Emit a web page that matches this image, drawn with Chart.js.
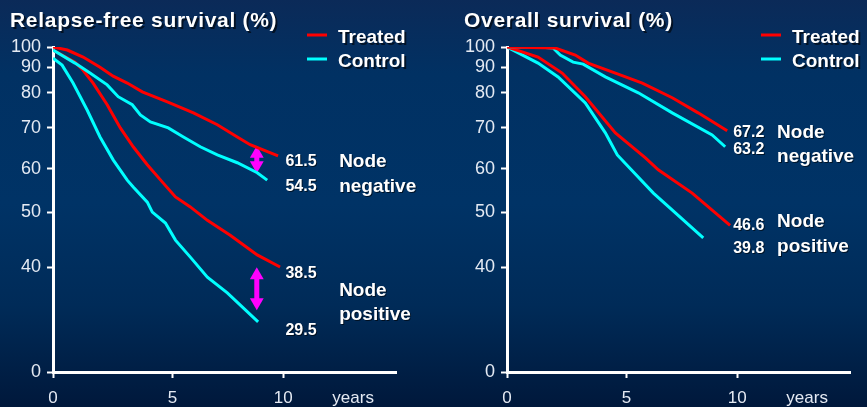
<!DOCTYPE html>
<html>
<head>
<meta charset="utf-8">
<script src="https://cdn.jsdelivr.net/npm/chart.js@4.4.1/dist/chart.umd.min.js"></script>
<style>
  html, body { margin: 0; padding: 0; }
  body {
    width: 867px; height: 407px; overflow: hidden; position: relative;
    background: linear-gradient(to bottom, #0b2a58 0%, #013163 18%, #003366 50%, #002b58 75%, #00183b 100%);
  }
  canvas { position: absolute; top: 0; }
  #rfs { left: 0; }
  #os { left: 440px; }
</style>
</head>
<body>
<canvas id="rfs" width="440" height="407"></canvas>
<canvas id="os" width="427" height="407"></canvas>
<script>
// axis ticks
const yearTicks = [0, 5, 10, 13.1];
const yearTickLabels = ['0', '5', '10', 'years'];
const pctTicks = [0, 40, 50, 60, 70, 80, 90, 100];
const pctTickLabels = ['0', '40', '50', '60', '70', '80', '90', '100'];
const seriesNames = ['Treated', 'Control'];

// Relapse-free survival, node negative
const rfsTreatedNegYears = [0, 0.6, 1.26, 1.97, 2.52, 3.11, 3.74, 4.79, 5.95, 7.03, 7.93, 8.51, 9.77];
const rfsTreatedNeg = [100, 98.5, 95, 90, 86.5, 83.8, 80.4, 77.4, 74.3, 70.9, 67.8, 65.9, 63.2];
const rfsControlNegYears = [0, 0.92, 1.55, 2.27, 2.73, 3.32, 3.66, 4.08, 4.83, 5.5, 6.26, 7.03, 7.93, 8.83, 9.28];
const rfsControlNeg = [98.5, 92, 87.7, 83.1, 78.9, 76.6, 73.7, 71.7, 70, 67.8, 65.4, 63.4, 61.5, 59.1, 57.4];
// Relapse-free survival, node positive
const rfsTreatedPosYears = [0, 0.92, 1.26, 1.68, 2.27, 2.82, 3.36, 3.95, 4.62, 5.14, 5.81, 6.58, 7.61, 8.83, 9.86];
const rfsTreatedPos = [98.5, 92.5, 88.8, 83.8, 76.6, 70, 65.4, 61, 56.7, 53.5, 51.2, 48.5, 45.8, 42.2, 40];
const rfsControlPosYears = [0, 0.38, 0.84, 1.43, 1.97, 2.52, 3.11, 3.36, 3.95, 4.16, 4.71, 5.14, 5.81, 6.58, 7.48, 8.87];
const rfsControlPos = [94.5, 91, 83.8, 75.1, 67.8, 62.2, 57.4, 55.8, 52.3, 50, 48, 44.9, 41.8, 38.4, 35.9, 31.3];
// gap arrows
const rfsArrowYear = 8.81;
const rfsArrowNeg = [63.7, 60.9];
const rfsArrowPos = [38.7, 34.4];

// Overall survival
const osTreatedNegYears = [0, 2.02, 2.86, 3.4, 4.54, 5.72, 7.07, 8.24, 9.55];
const osTreatedNeg = [100, 99.5, 96, 92, 87.7, 83.8, 78.6, 74.3, 69.3];
const osControlNegYears = [0, 1.3, 1.93, 2.23, 2.77, 3.19, 4.12, 5.54, 7.07, 8.87, 9.46];
const osControlNeg = [100, 100, 99.5, 96, 92.5, 91.5, 86.2, 80, 74.3, 68.3, 65.4];
const osTreatedPosYears = [0, 1.3, 2.31, 3.28, 4.54, 5.86, 6.44, 7.97, 9.68];
const osTreatedPos = [100, 95, 87.7, 78.9, 68.8, 62.7, 59.8, 54.4, 47.6];
const osControlPosYears = [0, 1.3, 2.14, 3.28, 4.12, 4.62, 6.22, 8.47];
const osControlPos = [100, 92, 86.2, 77.1, 68.8, 63.4, 54.4, 45.3];

// end values printed next to the curves
const rfsEndLabels = ['61.5', '54.5', '38.5', '29.5'];
const osEndLabels = ['67.2', '63.2', '46.6', '39.8'];

const FONT = '"Liberation Sans", Arial, sans-serif';
const RED = '#ff0000';
const CYAN = '#00ffff';
const MAGENTA = '#ff00ff';
const TICK_COLOR = '#e4eaf3';

// the original axes are hand drawn and not evenly spaced,
// so the scale maps values through fixed breakpoints
const yearKnots = [[0, 0], [5, 0.348], [10, 0.671], [15, 1]];
const pctKnots = [[0, 0], [30, 0.129], [40, 0.323], [50, 0.492], [60, 0.625], [70, 0.751], [80, 0.859], [90, 0.938], [100, 1]];

function toDecimal(knots, v) {
  if (v <= knots[0][0]) return knots[0][1];
  for (let i = 1; i < knots.length; i++) {
    if (v <= knots[i][0]) {
      const [v0, f0] = knots[i - 1], [v1, f1] = knots[i];
      return f0 + (v - v0) / (v1 - v0) * (f1 - f0);
    }
  }
  return knots[knots.length - 1][1];
}

function fromDecimal(knots, f) {
  for (let i = 1; i < knots.length; i++) {
    if (f <= knots[i][1]) {
      const [v0, f0] = knots[i - 1], [v1, f1] = knots[i];
      return v0 + (f - f0) / (f1 - f0) * (v1 - v0);
    }
  }
  return knots[knots.length - 1][0];
}

class BrokenScale extends Chart.LinearScale {
  knots() { return this.axis === 'x' ? yearKnots : pctKnots; }
  getPixelForValue(value) {
    if (value === null || value === undefined || isNaN(value)) return NaN;
    return this.getPixelForDecimal(toDecimal(this.knots(), value));
  }
  getValueForPixel(pixel) {
    return fromDecimal(this.knots(), this.getDecimalForPixel(pixel));
  }
}
BrokenScale.id = 'broken';
BrokenScale.defaults = {};
Chart.register(BrokenScale);

function points(xs, ys) {
  return xs.map((x, i) => ({ x: x, y: ys[i] }));
}

function curve(xs, ys, color) {
  return { data: points(xs, ys), borderColor: color, borderWidth: 3, pointRadius: 0, tension: 0, fill: false };
}

function arrow(year, ys) {
  return {
    data: ys.map(y => ({ x: year, y: y })),
    borderColor: MAGENTA, backgroundColor: MAGENTA, borderWidth: 5,
    pointStyle: 'triangle', pointRadius: 8, pointRotation: [0, 180],
    pointBorderWidth: 0, pointBackgroundColor: MAGENTA, fill: false
  };
}

// titles, legend and the labels next to the curves
function panelText(cfg) {
  return {
    id: 'panelText',
    afterDraw(chart) {
      const ctx = chart.ctx;
      const area = chart.chartArea;
      const xs = chart.scales.x, ys = chart.scales.y;
      ctx.save();
      ctx.textBaseline = 'middle';
      ctx.textAlign = 'left';
      ctx.fillStyle = '#ffffff';
      ctx.shadowColor = 'rgba(0,0,0,0.6)';
      ctx.shadowOffsetX = 2;
      ctx.shadowOffsetY = 2;
      ctx.font = 'bold 21px ' + FONT;
      ctx.letterSpacing = '0.7px';
      ctx.fillText(cfg.title, area.left - 43, 21);
      ctx.letterSpacing = '0px';

      // legend
      const colors = [RED, CYAN];
      ctx.font = 'bold 19px ' + FONT;
      seriesNames.forEach((name, i) => {
        const y = 38 + i * 24;
        ctx.save();
        ctx.shadowColor = 'transparent';
        ctx.strokeStyle = colors[i];
        ctx.lineWidth = 3;
        ctx.beginPath();
        ctx.moveTo(area.left + 254, y - 3);
        ctx.lineTo(area.left + 274, y - 3);
        ctx.stroke();
        ctx.restore();
        ctx.fillText(name, area.left + 285, y);
      });

      ctx.shadowOffsetX = 1;
      ctx.shadowOffsetY = 1;
      cfg.notes.forEach(n => {
        ctx.font = (n.big ? 'bold 19px ' : 'bold 16px ') + FONT;
        ctx.fillText(n.text, xs.getPixelForValue(n.x), ys.getPixelForValue(n.y));
      });
      ctx.restore();
    }
  };
}

function makeChart(id, cfg) {
  return new Chart(document.getElementById(id), {
    type: 'line',
    data: { datasets: cfg.datasets },
    options: {
      responsive: false,
      animation: false,
      events: [],
      layout: { padding: { top: 47, right: cfg.padRight, bottom: 0, left: 0 } },
      plugins: { legend: { display: false }, tooltip: { enabled: false } },
      scales: {
        x: {
          type: 'broken', min: 0, max: 15,
          afterFit: s => { s.height = 35; },
          afterBuildTicks: s => { s.ticks = yearTicks.map(v => ({ value: v })); },
          ticks: {
            autoSkip: false, maxRotation: 0, padding: 10, color: TICK_COLOR,
            font: { family: FONT, size: 17 },
            callback: (v, i) => yearTickLabels[i]
          },
          grid: {
            drawOnChartArea: false, drawTicks: true, tickLength: 6, tickWidth: 2,
            tickColor: c => (c.tick && c.tick.value > 12 ? 'rgba(0,0,0,0)' : '#ffffff')
          },
          border: { display: true, color: '#ffffff', width: 3 }
        },
        y: {
          type: 'broken', min: 0, max: 100,
          afterFit: s => { s.width = cfg.axisWidth; },
          afterBuildTicks: s => { s.ticks = pctTicks.map(v => ({ value: v })); },
          ticks: {
            autoSkip: false, padding: 6, color: TICK_COLOR,
            font: { family: FONT, size: 18 },
            callback: (v, i) => pctTickLabels[i]
          },
          grid: { drawOnChartArea: false, drawTicks: true, tickLength: 6, tickWidth: 2, tickColor: '#ffffff' },
          border: { display: true, color: '#ffffff', width: 3 }
        }
      }
    },
    plugins: [panelText(cfg)]
  });
}

makeChart('rfs', {
  title: 'Relapse-free survival (%)',
  axisWidth: 53,
  padRight: 44,
  datasets: [
    curve(rfsTreatedNegYears, rfsTreatedNeg, RED),
    curve(rfsControlNegYears, rfsControlNeg, CYAN),
    curve(rfsTreatedPosYears, rfsTreatedPos, RED),
    curve(rfsControlPosYears, rfsControlPos, CYAN),
    arrow(rfsArrowYear, rfsArrowNeg),
    arrow(rfsArrowYear, rfsArrowPos)
  ],
  notes: [
    { text: rfsEndLabels[0], x: 10.1, y: 61.8 },
    { text: rfsEndLabels[1], x: 10.1, y: 55.9 },
    { text: rfsEndLabels[2], x: 10.1, y: 39.0 },
    { text: rfsEndLabels[3], x: 10.1, y: 29.3 },
    { text: 'Node', x: 12.48, y: 61.8, big: true },
    { text: 'negative', x: 12.48, y: 55.9, big: true },
    { text: 'Node', x: 12.48, y: 36.2, big: true },
    { text: 'positive', x: 12.48, y: 32.4, big: true }
  ]
});

makeChart('os', {
  title: 'Overall survival (%)',
  axisWidth: 67,
  padRight: 17,
  datasets: [
    curve(osTreatedNegYears, osTreatedNeg, RED),
    curve(osControlNegYears, osControlNeg, CYAN),
    curve(osTreatedPosYears, osTreatedPos, RED),
    curve(osControlPosYears, osControlPos, CYAN)
  ],
  notes: [
    { text: osEndLabels[0], x: 9.82, y: 68.8 },
    { text: osEndLabels[1], x: 9.82, y: 64.6 },
    { text: osEndLabels[2], x: 9.82, y: 47.6 },
    { text: osEndLabels[3], x: 9.82, y: 43.4 },
    { text: 'Node', x: 11.77, y: 68.8, big: true },
    { text: 'negative', x: 11.77, y: 62.9, big: true },
    { text: 'Node', x: 11.77, y: 48.2, big: true },
    { text: 'positive', x: 11.77, y: 43.7, big: true }
  ]
});
</script>
</body>
</html>
